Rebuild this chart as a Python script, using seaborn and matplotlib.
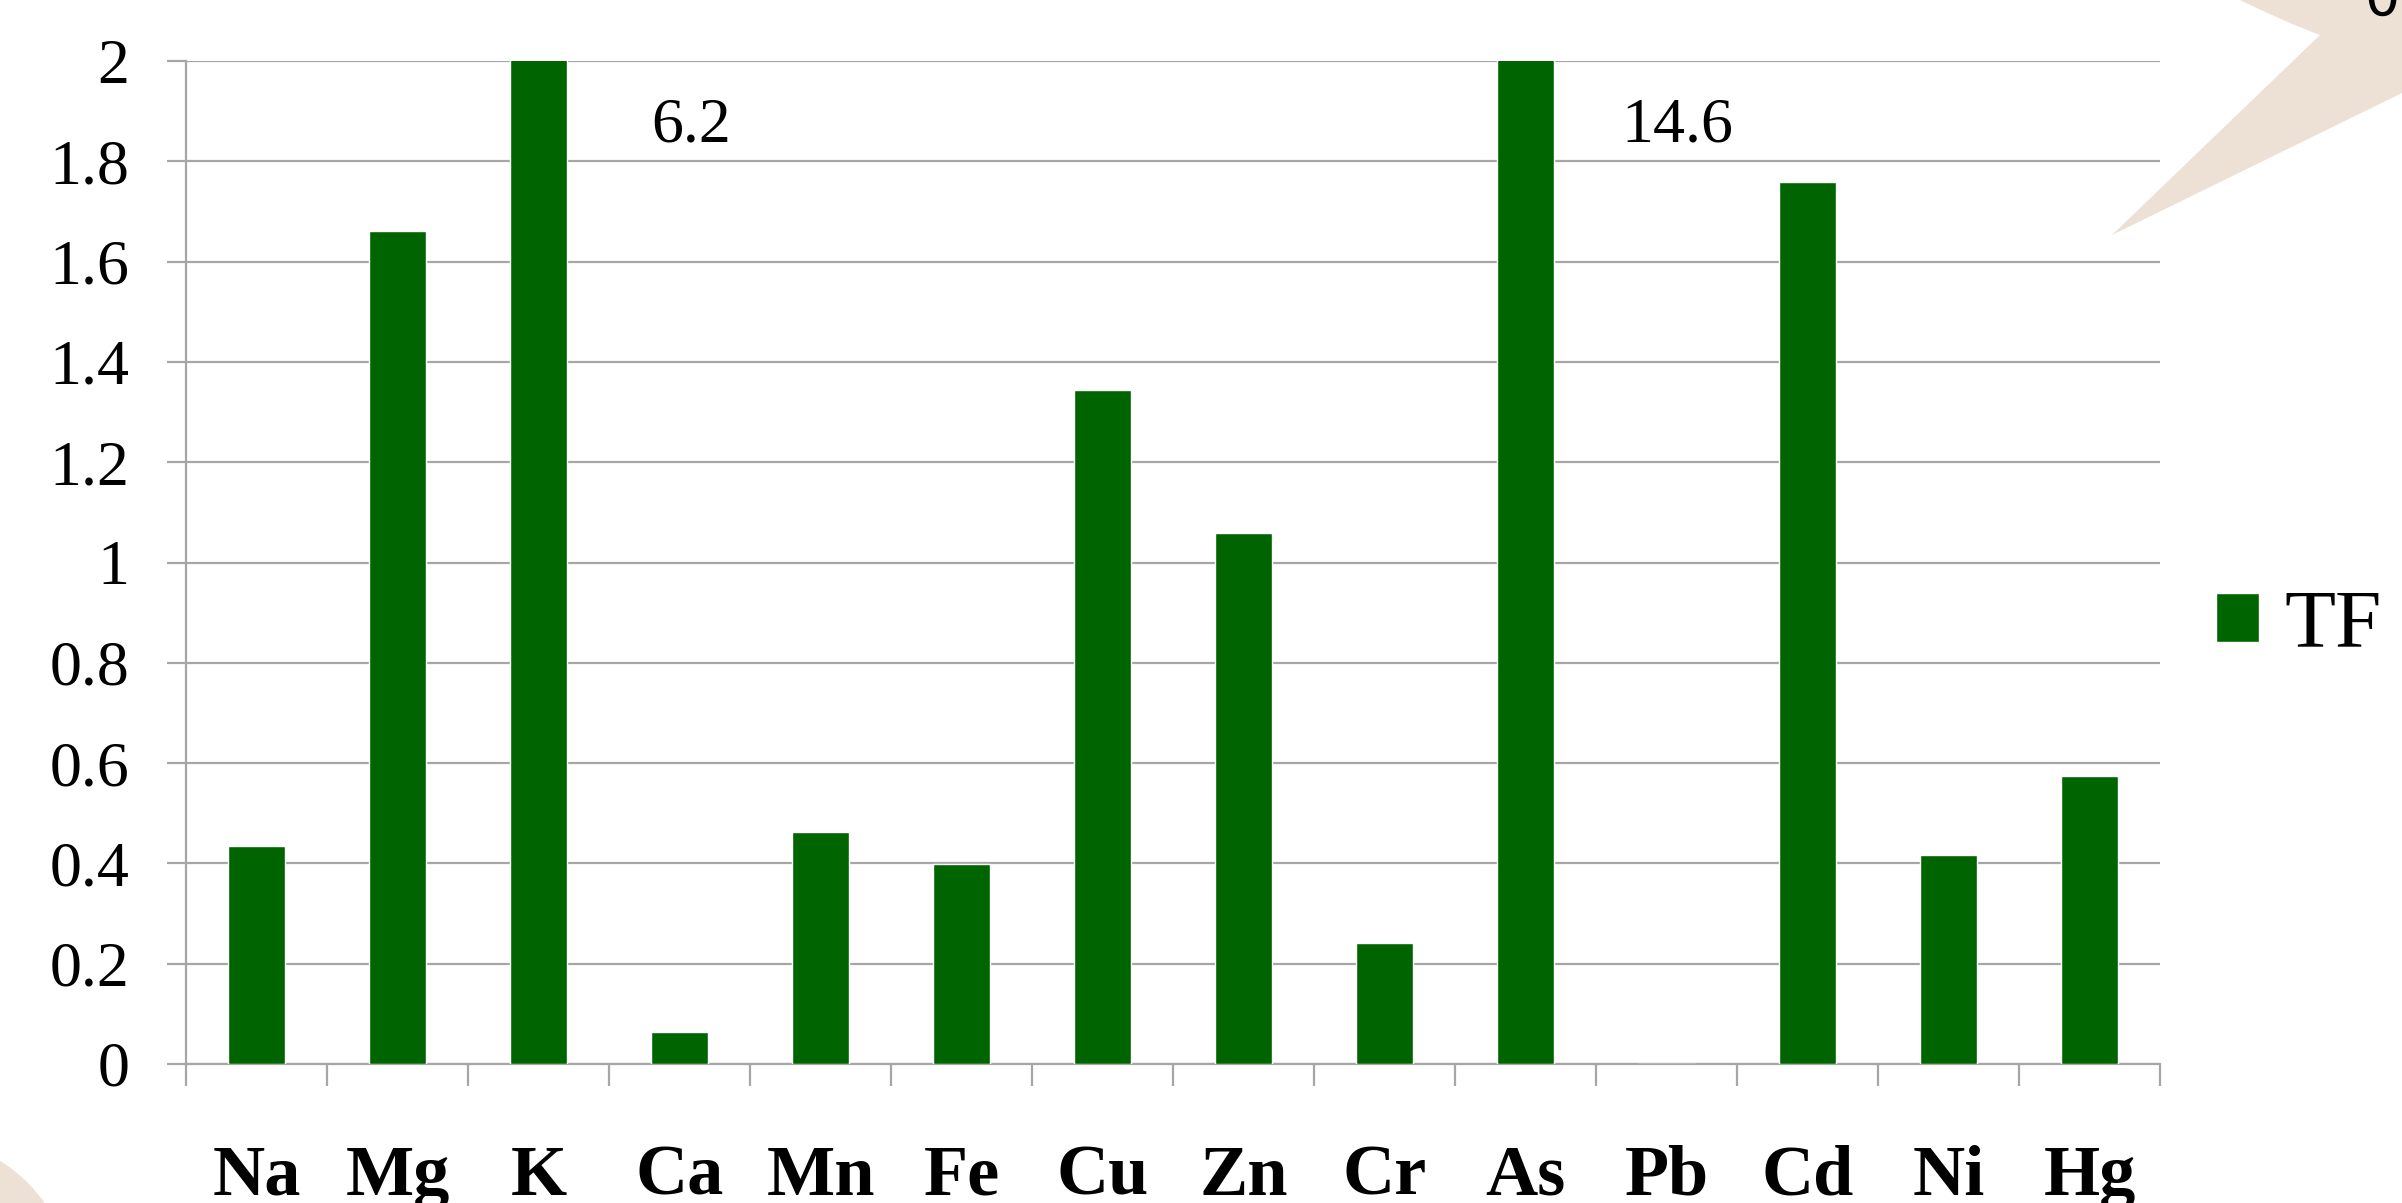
import numpy as np
import pandas as pd
import matplotlib
matplotlib.use("Agg")
import matplotlib.pyplot as plt
import seaborn as sns
from matplotlib.patches import Circle
from matplotlib.path import Path
from matplotlib.patches import PathPatch

# Translocation factor per element
elements = ["Na", "Mg", "K", "Ca", "Mn", "Fe", "Cu", "Zn", "Cr", "As", "Pb", "Cd", "Ni", "Hg"]
tf_values = [0.434, 1.661, 6.2, 0.064, 0.462, 0.398, 1.343, 1.058, 0.242, 14.6, 0.0, 1.758, 0.416, 0.575]
y_ticks = [0, 0.2, 0.4, 0.6, 0.8, 1, 1.2, 1.4, 1.6, 1.8, 2]
y_tick_labels = ["0", "0.2", "0.4", "0.6", "0.8", "1", "1.2", "1.4", "1.6", "1.8", "2"]
series_name = "TF"

Y_MAX = 2.0
BAR_COLOR = "#006400"
GRID_COLOR = "#a6a6a6"
DECOR_COLOR = "#ede0d4"

sns.set_theme(style="white")
plt.rcParams["font.family"] = ["Liberation Serif", "DejaVu Serif"]
plt.rcParams["text.color"] = "black"
plt.rcParams["xtick.labelcolor"] = "black"
plt.rcParams["ytick.labelcolor"] = "black"

W, H = 2402, 1203
fig = plt.figure(figsize=(W / 100, H / 100), dpi=100)
fig.patch.set_facecolor("white")


def fx(px):
    return px / W


def fy(py):
    return 1 - py / H


# Background decorations
star = Path(
    [(fx(2240), fy(0)), (fx(2285), fy(22)), (fx(2320), fy(35)), (fx(2112), fy(235)),
     (fx(2402), fy(93)), (fx(2402), fy(0)), (fx(2240), fy(0))],
    [Path.MOVETO, Path.CURVE3, Path.CURVE3, Path.LINETO, Path.LINETO, Path.LINETO, Path.CLOSEPOLY],
)
fig.add_artist(PathPatch(star, transform=fig.transFigure, facecolor=DECOR_COLOR,
                         edgecolor="none", zorder=0))
fig.add_artist(Circle((-80, H - 1290), 152, transform=None, facecolor=DECOR_COLOR,
                      edgecolor="none", zorder=0))
fig.text(fx(2364), fy(15), "0", fontsize=40, family="DejaVu Sans",
         color="black", ha="left", va="baseline")

ax = fig.add_axes([fx(186), fy(1064), fx(2160) - fx(186), fy(61) - fy(1064)])
ax.set_facecolor("none")

df = pd.DataFrame({"Element": elements, "TF": tf_values})
sns.barplot(data=df, x="Element", y="TF", color=BAR_COLOR, width=0.4, saturation=1,
            label=series_name, ax=ax, zorder=3)

ax.set_ylim(0, Y_MAX)
ax.set_xlim(-0.5, len(elements) - 0.5)
ax.set_yticks(y_ticks)
ax.set_yticklabels(y_tick_labels)
ax.set_xlabel("")
ax.set_ylabel("")

ax.yaxis.grid(True, color=GRID_COLOR, linewidth=1.6, zorder=0)
ax.set_axisbelow(True)
for side in ["top", "right"]:
    ax.spines[side].set_visible(False)
for side in ["left", "bottom"]:
    ax.spines[side].set_color(GRID_COLOR)
    ax.spines[side].set_linewidth(1.6)

ax.tick_params(axis="y", which="major", direction="out", length=14, width=1.6,
               color=GRID_COLOR, left=True, labelsize=46, pad=27, labelcolor="black")
ax.set_xticks(np.arange(len(elements)))
ax.set_xticklabels(elements, fontweight="bold", fontsize=52, color="black")
ax.tick_params(axis="x", which="major", length=0, pad=58)
ax.set_xticks(np.arange(len(elements) + 1) - 0.5, minor=True)
ax.tick_params(axis="x", which="minor", direction="out", length=16, width=1.6,
               color=GRID_COLOR, bottom=True)

# Values of bars that run past the top of the axis
for i, v in enumerate(tf_values):
    if v > Y_MAX:
        ax.text(i + 1.08, 1.87, f"{v:g}", fontsize=46, ha="center", va="center",
                color="black")

leg = ax.legend(loc="center left", bbox_to_anchor=(fx(2216), fy(627)),
                bbox_transform=fig.transFigure, frameon=False, fontsize=60,
                handlelength=0.52, handleheight=0.52, handletextpad=0.3,
                borderpad=0, borderaxespad=0)
for t in leg.get_texts():
    t.set_color("black")

fig.savefig("out.png", dpi=100, facecolor="white")
